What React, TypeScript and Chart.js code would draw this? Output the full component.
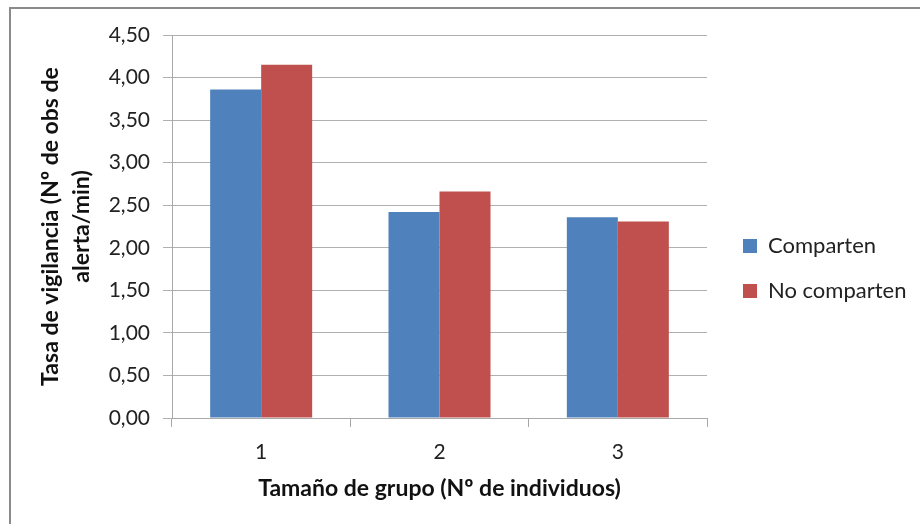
import React, { useEffect, useRef } from "react";
import { Chart, registerables } from "chart.js";

Chart.register(...registerables);

const categories = ["1", "2", "3"];
const seriesNames = ["Comparten", "No comparten"];
const comparten = [3.86, 2.42, 2.36];
const noComparten = [4.15, 2.66, 2.31];
const yTicks = [0, 0.5, 1, 1.5, 2, 2.5, 3, 3.5, 4, 4.5];
const yTitle = ["Tasa de vigilancia (Nº de obs de", "alerta/min)"];
const xTitle = "Tamaño de grupo (Nº de individuos)";

const FONT = "Lato, 'Open Sans', sans-serif";
const LEGEND_SIZE = 22;
const LEGEND_PAD = 23;
const LEGEND_BOX = 14;

export default function App() {
  const ref = useRef<HTMLCanvasElement>(null);
  useEffect(() => {
    if (!ref.current) return;
    const mctx = document.createElement("canvas").getContext("2d")!;
    mctx.font = `${LEGEND_SIZE}px ${FONT}`;
    const tw = Math.max(...seriesNames.map((s) => mctx.measureText(s).width));
    const legendW = LEGEND_PAD + LEGEND_BOX + LEGEND_SIZE / 2 + tw + 10;
    const legendLeft = 743 - LEGEND_PAD;
    const padRight = Math.max(0, 920 - legendLeft - legendW);

    const chart = new Chart(ref.current, {
      type: "bar",
      data: {
        labels: categories,
        datasets: [
          { label: seriesNames[0], data: comparten, backgroundColor: "#4F81BD", borderWidth: 0 },
          { label: seriesNames[1], data: noComparten, backgroundColor: "#C0504D", borderWidth: 0 },
        ],
      },
      options: {
        animation: false,
        responsive: false,
        maintainAspectRatio: false,
        layout: { padding: { left: 12, top: 29, right: padRight, bottom: 16 } },
        datasets: { bar: { categoryPercentage: 0.572, barPercentage: 1 } },
        plugins: {
          tooltip: { enabled: false },
          legend: {
            position: "right",
            align: "center",
            maxWidth: 400,
            labels: {
              boxWidth: LEGEND_BOX,
              boxHeight: LEGEND_BOX,
              padding: LEGEND_PAD,
              color: "#222",
              font: { family: FONT, size: LEGEND_SIZE },
            },
          },
        },
        scales: {
          x: {
            grid: { offset: true, drawOnChartArea: false, drawTicks: true, tickLength: 9, color: "#a8a8a8" },
            border: { color: "#a8a8a8", width: 1 },
            ticks: { color: "#222", padding: 13, font: { family: FONT, size: 21 } },
            title: {
              display: true,
              text: xTitle,
              color: "#111",
              font: { family: FONT, size: 23, weight: "bold", lineHeight: 1.2 },
              padding: { top: 0, bottom: 6 },
            },
            afterFit: (s: any) => { s.height = 90; },
          },
          x2: {
            position: "top",
            type: "linear",
            display: true,
            min: 0,
            max: 1,
            grid: { display: false, drawTicks: false },
            border: { display: false },
            ticks: { display: false },
            afterFit: (s: any) => { s.height = 6; },
          },
          y: {
            min: 0,
            max: 4.5,
            afterBuildTicks: (s: any) => { s.ticks = yTicks.map((v) => ({ value: v })); },
            grid: { color: "#b0b0b0", tickLength: 9, drawTicks: true },
            border: { color: "#a8a8a8", width: 1 },
            ticks: {
              color: "#222",
              padding: 13,
              font: { family: FONT, size: 21 },
              callback: (v: any) => Number(v).toFixed(2).replace(".", ","),
            },
            title: {
              display: true,
              text: yTitle,
              color: "#111",
              font: { family: FONT, size: 23, weight: "bold", lineHeight: 1.35 },
              padding: { top: 23, bottom: 0 },
            },
            afterFit: (s: any) => { s.width = 160; },
          },
          y2: {
            position: "right",
            display: true,
            min: 0,
            max: 1,
            grid: { display: false, drawTicks: false },
            border: { display: false },
            ticks: { display: false },
            afterFit: (s: any) => { s.width = legendLeft - 707; },
          },
        },
      },
    });
    return () => chart.destroy();
  }, []);
  return (
    <div style={{ position: "fixed", left: 0, top: 0, width: 920, height: 524, background: "#fff" }}>
      <div style={{ position: "absolute", left: 9, top: 7, width: 920, height: 530, borderLeft: "2px solid #8a8a8a", borderTop: "2px solid #8a8a8a" }} />
      <canvas ref={ref} width={920} height={524} style={{ position: "absolute", left: 0, top: 0, width: 920, height: 524 }} />
    </div>
  );
}
